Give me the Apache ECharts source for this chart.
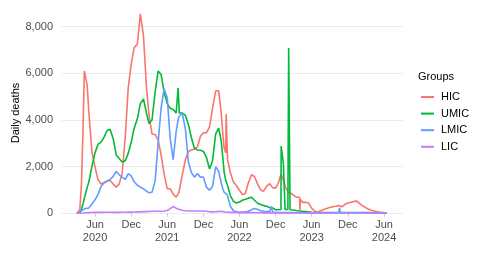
<!DOCTYPE html>
<html>
<head>
<meta charset="utf-8">
<script src="https://cdn.jsdelivr.net/npm/echarts@6/dist/echarts.min.js"></script>
<style>html,body{margin:0;padding:0;background:#fff}#c{width:490px;height:257px}</style>
</head>
<body>
<div id="c"></div>
<script>
const dates = [
 '2020-03-01','2020-03-16','2020-03-24','2020-04-01','2020-04-08','2020-04-16','2020-04-22','2020-05-01','2020-05-16','2020-06-01','2020-06-16','2020-07-01','2020-07-16',
 '2020-08-01','2020-08-16','2020-09-01','2020-09-16','2020-10-01','2020-10-16','2020-11-01','2020-11-16','2020-12-01','2020-12-16',
 '2021-01-01','2021-01-16','2021-02-01','2021-02-16','2021-03-01','2021-03-16','2021-04-01','2021-04-16','2021-05-01','2021-05-16',
 '2021-06-01','2021-06-16','2021-07-01','2021-07-16','2021-07-24','2021-07-26','2021-07-30','2021-08-01','2021-08-16','2021-09-01',
 '2021-09-16','2021-10-01','2021-10-16','2021-11-01','2021-11-16','2021-12-01','2021-12-16','2022-01-01','2022-01-16','2022-02-01',
 '2022-02-16','2022-03-01','2022-03-09','2022-03-16','2022-03-24','2022-03-26','2022-03-31','2022-04-02','2022-04-16','2022-05-01',
 '2022-05-16','2022-06-01','2022-06-16','2022-07-01','2022-07-16','2022-08-01','2022-08-16','2022-09-01','2022-09-16','2022-10-01',
 '2022-10-16','2022-11-01','2022-11-10','2022-11-16','2022-12-01','2022-12-16','2022-12-28','2022-12-29','2023-01-08','2023-01-09',
 '2023-01-16','2023-01-18','2023-02-01','2023-02-04','2023-02-05','2023-02-11','2023-02-12','2023-02-16','2023-03-01','2023-03-16',
 '2023-04-01','2023-04-03','2023-04-05','2023-04-16','2023-05-01','2023-05-16','2023-06-01','2023-06-16','2023-07-01','2023-07-16',
 '2023-08-01','2023-08-16','2023-09-01','2023-09-16','2023-10-01','2023-10-16','2023-10-20','2023-10-25','2023-11-01','2023-11-16',
 '2023-12-01','2023-12-16','2024-01-01','2024-01-16','2024-02-01','2024-02-16','2024-03-01','2024-03-16','2024-04-01','2024-04-16',
 '2024-05-01','2024-05-16','2024-06-01','2024-06-16'
];
const hic = [
 0,150,1200,3500,6100,6150,5500,4300,2650,1980,1450,1250,1320,
 1380,1420,1250,1120,1250,1700,3300,5400,6400,7100,
 7250,8550,7600,5400,4200,3400,3380,3150,2500,1700,
 1050,1050,820,690,800,850,900,950,1650,2300,
 2650,2710,2750,2850,3300,3450,3450,3700,4500,5250,
 5250,4300,3400,2800,2600,4250,4250,2300,1750,1350,
 1200,990,800,850,1300,1650,1580,1250,1000,950,
 1150,1270,1200,1100,1080,1330,1680,1700,1450,1420,
 1250,1150,930,900,890,870,865,860,780,690,
 690,130,600,470,470,450,220,100,40,110,
 160,210,250,280,300,330,320,300,280,380,
 440,470,510,520,400,310,240,170,120,90,
 60,45,30,20
];
const umic = [
 0,30,150,400,650,900,1100,1350,2000,2600,2950,3050,3250,
 3550,3600,3200,2500,2350,2200,2250,2580,3050,3650,
 4050,4700,4900,4300,3850,4000,5200,6100,5950,5200,
 4700,4500,4450,4300,4300,5370,5370,4300,4300,4200,
 3800,3250,2800,2710,2700,2650,2400,1900,2250,3400,
 3650,3100,2400,1750,1400,1350,1250,1200,760,520,
 440,480,560,600,650,690,560,430,380,330,
 300,250,240,230,150,150,160,2880,2880,2150,
 2150,150,170,170,7080,7080,150,150,140,120,
 100,100,100,90,80,60,40,30,30,30,
 30,30,30,30,30,30,30,30,30,30,
 30,30,30,30,30,30,30,30,25,25,
 20,20,15,10
];
const lmic = [
 0,60,100,150,180,210,220,230,400,580,800,1150,1300,
 1380,1450,1580,1800,1650,1550,1450,1700,1600,1350,
 1200,1120,1050,950,880,900,1400,3000,4500,5350,
 4950,3200,2300,3500,3900,4000,4150,4200,4300,3600,
 2200,1750,1550,1700,1550,1550,1120,990,1150,2000,
 1800,1300,1050,900,850,840,800,780,300,120,
 60,40,50,60,90,150,210,170,110,90,
 80,70,300,50,40,30,30,30,30,30,
 30,30,30,30,30,30,30,30,25,25,
 25,25,25,25,20,20,20,20,20,20,
 20,20,20,20,20,20,230,20,20,20,
 20,20,20,20,15,15,15,15,15,15,
 10,10,10,10
];
const lic = [
 0,5,10,15,20,25,28,30,35,40,40,40,45,
 45,45,40,40,40,45,45,50,50,55,
 60,60,70,70,80,90,90,90,90,100,
 120,200,290,220,190,180,170,160,130,110,
 100,100,100,100,100,100,90,70,60,70,
 80,90,170,60,50,50,45,45,40,40,
 35,30,30,30,30,30,25,25,25,20,
 20,20,20,20,20,15,15,15,15,15,
 15,15,15,15,15,15,15,15,12,12,
 12,12,12,12,10,10,10,10,10,10,
 10,10,10,10,10,10,10,10,10,10,
 10,10,10,10,10,10,10,10,10,10,
 10,10,10,10
];
const groupNames = ['HIC','UMIC','LMIC','LIC'];
const groupColors = ['#F8766D','#00BA38','#619CFF','#C77CFF'];
const xTickDates = ['2020-06-01','2020-12-01','2021-06-01','2021-12-01','2022-06-01','2022-12-01','2023-06-01','2023-12-01','2024-06-01'];
const yTicks = [0,2000,4000,6000,8000];

const ts = s => { const p = s.split('-').map(Number); return Date.UTC(p[0], p[1]-1, p[2]); };
const seriesVals = [hic, umic, lmic, lic];
const xTicks = xTickDates.map(ts);

const chart = echarts.init(document.getElementById('c'), null, {renderer:'canvas'});
const font = 'Liberation Sans, Arial, sans-serif';
chart.setOption({
  animation: false,
  textStyle: {fontFamily: font},
  grid: {left: 62, right: 87, top: 3.3, bottom: 43.7, containLabel: false},
  title: {text: 'Groups', left: 418, top: 71, padding: 0,
    textStyle: {fontSize: 11, fontWeight: 'normal', color: '#000', fontFamily: font}},
  legend: {
    orient: 'vertical', left: 421, top: 89.7, padding: 0,
    icon: 'rect', itemWidth: 13, itemHeight: 2, itemGap: 2,
    data: groupNames,
    textStyle: {fontSize: 11, color: '#000', lineHeight: 14.6, fontFamily: font, padding: [0,0,0,2]}
  },
  graphic: [{
    type: 'text', x: 16, y: 113, rotation: Math.PI/2,
    style: {text: 'Daily deaths', fontSize: 11, fill: '#000', fontFamily: font, align: 'center', verticalAlign: 'middle'}
  }],
  xAxis: {
    type: 'value', min: ts('2019-12-17'), max: ts('2024-09-05'),
    axisLine: {show: false},
    axisTick: {show: true, customValues: xTicks, length: 3.5, lineStyle: {color: '#cccccc', width: 1}},
    splitLine: {show: false},
    axisLabel: {
      customValues: xTicks, margin: 5, fontSize: 11, lineHeight: 13, color: '#4d4d4d', fontFamily: font,
      formatter: v => { const d = new Date(v); return d.getUTCMonth() === 5 ? 'Jun\n' + d.getUTCFullYear() : 'Dec'; }
    }
  },
  yAxis: {
    type: 'value', min: 0, max: 9000,
    axisLine: {show: false},
    axisTick: {show: false, customValues: yTicks},
    splitLine: {show: true, lineStyle: {color: '#ebebeb', width: 1}},
    axisLabel: {customValues: yTicks, margin: 9, fontSize: 11, color: '#4d4d4d', fontFamily: font,
      formatter: v => v.toLocaleString('en-US')}
  },
  series: groupNames.map((name, k) => ({
    name, type: 'line', showSymbol: false, clip: false,
    color: groupColors[k],
    lineStyle: {width: 1.6, color: groupColors[k]},
    data: dates.map((d, i) => [ts(d), seriesVals[k][i]])
  }))
});
</script>
</body>
</html>
